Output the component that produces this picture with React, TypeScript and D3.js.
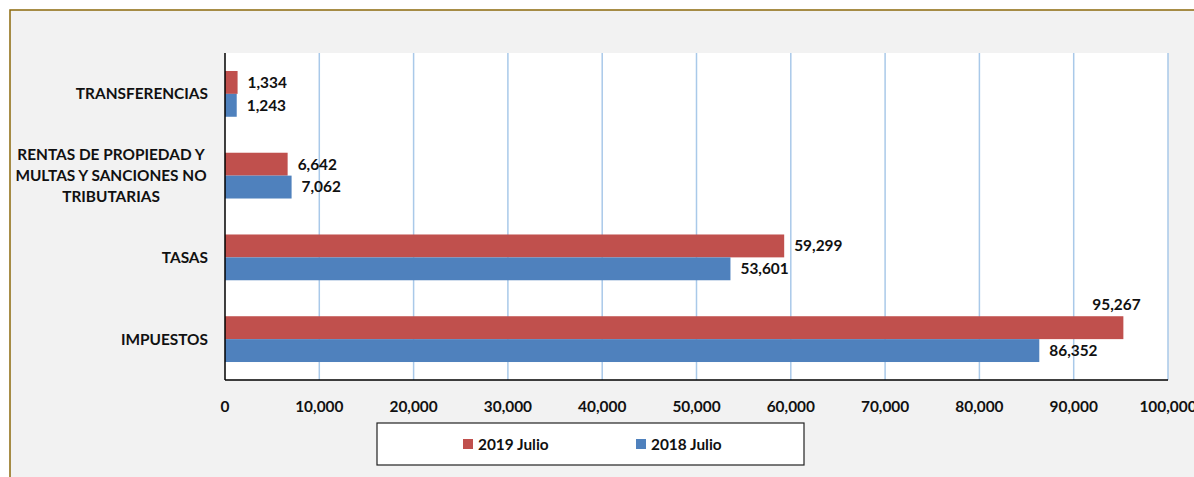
import React from "react";
import * as d3 from "d3";

const categories = ["TRANSFERENCIAS", "RENTAS DE PROPIEDAD Y MULTAS Y SANCIONES NO TRIBUTARIAS", "TASAS", "IMPUESTOS"];
const categoryLines = [["TRANSFERENCIAS"], ["RENTAS DE PROPIEDAD Y", "MULTAS Y SANCIONES NO", "TRIBUTARIAS"], ["TASAS"], ["IMPUESTOS"]];
const seriesNames = ["2019 Julio", "2018 Julio"];
const values2019 = [1334, 6642, 59299, 95267];
const values2018 = [1243, 7062, 53601, 86352];
const xTicks = [0, 10000, 20000, 30000, 40000, 50000, 60000, 70000, 80000, 90000, 100000];

const colors = ["#C0504D", "#4F81BD"];
const font = "Lato, 'Open Sans', sans-serif";
const fs = 15.4;

const W = 1194;
const H = 477;
const plot = { left: 225, right: 1168, top: 53, bottom: 380 };

const App = () => {
  const x = d3.scaleLinear().domain([0, 100000]).range([plot.left, plot.right]);
  const y = d3.scaleBand().domain(categories).range([plot.top, plot.bottom]).paddingInner(0.44).paddingOuter(0.22);
  const fmt = d3.format(",");
  const series = [values2019, values2018];

  return (
    <svg width={W} height={H} style={{ position: "absolute", left: 0, top: 0, display: "block" }}>
      <rect x={0} y={0} width={W} height={H} fill="#fff" />
      <rect x={10} y={10} width={W + 20} height={H + 20} fill="#f2f2f2" stroke="#8c6a0c" strokeWidth={1.5} />
      <rect x={plot.left} y={plot.top} width={plot.right - plot.left} height={plot.bottom - plot.top} fill="#fff" />
      {xTicks.slice(1).map((t) => (
        <line key={t} x1={x(t)} x2={x(t)} y1={plot.top} y2={plot.bottom} stroke="#a9c9e9" strokeWidth={1.5} />
      ))}
      {categories.map((c, i) => {
        const bw = y.bandwidth() / 2;
        return (
          <g key={c}>
            {series.map((vals, s) => {
              const v = vals[i];
              const by = (y(c) as number) + s * bw;
              const ex = x(v);
              const overflow = ex + 60 > plot.right;
              return (
                <g key={s}>
                  <rect x={x(0)} y={by} width={ex - x(0)} height={bw} fill={colors[s]} />
                  <text
                    x={overflow ? ex - 31 : ex + 10}
                    y={overflow ? by - 12 : by + bw / 2}
                    dy="0.35em"
                    fontFamily={font}
                    fontWeight="bold"
                    fontSize={fs}
                    fill="#111"
                  >
                    {fmt(v)}
                  </text>
                </g>
              );
            })}
            {categoryLines[i].length === 1 ? (
              <text x={208} y={(y(c) as number) + y.bandwidth() / 2} dy="0.35em" textAnchor="end" fontFamily={font} fontWeight="bold" fontSize={fs} fill="#111">
                {categoryLines[i][0]}
              </text>
            ) : (
              categoryLines[i].map((ln, k) => (
                <text key={k} x={111} y={(y(c) as number) + y.bandwidth() / 2 + (k - (categoryLines[i].length - 1) / 2) * 21} dy="0.35em" textAnchor="middle" fontFamily={font} fontWeight="bold" fontSize={fs} fill="#111">
                  {ln}
                </text>
              ))
            )}
          </g>
        );
      })}
      <line x1={plot.left} x2={plot.left} y1={plot.top} y2={plot.bottom} stroke="#000" strokeWidth={1.5} />
      <line x1={plot.left} x2={plot.right} y1={plot.bottom} y2={plot.bottom} stroke="#000" strokeWidth={1.5} />
      {xTicks.map((t) => (
        <text key={t} x={x(t)} y={407} dy="0.35em" textAnchor="middle" fontFamily={font} fontWeight="bold" fontSize={fs} fill="#111">
          {fmt(t)}
        </text>
      ))}
      <rect x={377} y={423} width={427} height={42} fill="#fff" stroke="#222" strokeWidth={1.2} />
      {seriesNames.map((n, s) => (
        <g key={n} transform={`translate(${463 + s * 173},0)`}>
          <rect x={0} y={439} width={10} height={10} fill={colors[s]} />
          <text x={15} y={445} dy="0.35em" fontFamily={font} fontWeight="bold" fontSize={fs} fill="#111">
            {n}
          </text>
        </g>
      ))}
    </svg>
  );
};

export default App;
